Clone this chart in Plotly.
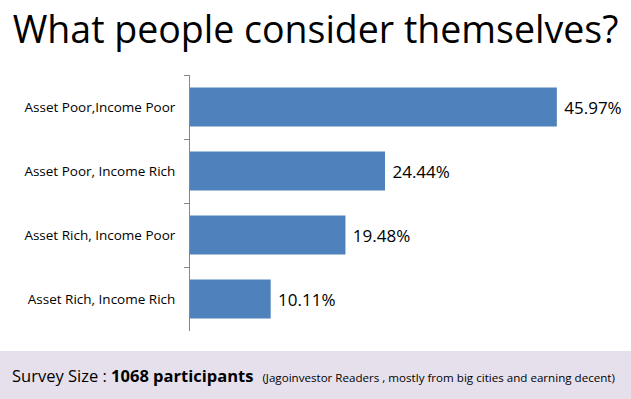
import plotly.graph_objects as go

categories = ["Asset Poor,Income Poor", "Asset Poor, Income Rich",
              "Asset Rich, Income Poor", "Asset Rich, Income Rich"]
values = [45.97, 24.44, 19.48, 10.11]
labels = ["45.97%", "24.44%", "19.48%", "10.11%"]

W, H = 631, 399
FONT = "Open Sans"

fig = go.Figure()
fig.add_trace(go.Bar(
    y=categories, x=values, orientation="h",
    marker=dict(color="#4F81BD", line=dict(width=0)),
    width=0.61,
    text=["\u00a0" + t for t in labels], textposition="outside",
    textfont=dict(family=FONT, size=17, color="#000000"),
    cliponaxis=False, hoverinfo="skip",
))

fig.update_layout(
    width=W, height=H,
    margin=dict(l=0, r=0, t=0, b=0),
    paper_bgcolor="white", plot_bgcolor="white",
    showlegend=False,
    xaxis=dict(domain=[190 / W, 589 / W], range=[0, 50], visible=False, fixedrange=True),
    yaxis=dict(domain=[1 - 331 / H, 1 - 75 / H], autorange="reversed",
               type="category", showline=True, linecolor="#868686", linewidth=1,
               ticks="outside", tickson="boundaries", ticklen=5, tickcolor="#868686",
               showgrid=False, zeroline=False, ticklabelstandoff=11, fixedrange=True,
               tickfont=dict(family=FONT, size=13.5, color="#000000")),
    title=dict(text="What people consider themselves?", x=0.5, xanchor="center",
               y=1 - 30 / H, yanchor="middle",
               font=dict(family=FONT, size=37.5, color="#000000")),
    shapes=[dict(type="rect", xref="paper", yref="paper", x0=0, x1=1,
                 y0=0, y1=1 - 351 / H, fillcolor="#E6E0EC", line=dict(width=0),
                 layer="below")],
    annotations=[dict(xref="paper", yref="paper", x=10 / W, y=1 - 375 / H,
                      xanchor="left", yanchor="middle", showarrow=False,
                      text="<span style='font-size:16.5px'>Survey Size : <b>1068 participants</b></span>"
                           "<span style='font-size:11.6px'>   (Jagoinvestor Readers , mostly from big cities and earning decent)</span>",
                      font=dict(family=FONT, size=16.5, color="#000000"))],
)

fig.write_html("out.html", config={"displayModeBar": False},
               post_script="document.body.style.margin='0';document.body.style.overflow='hidden';")
